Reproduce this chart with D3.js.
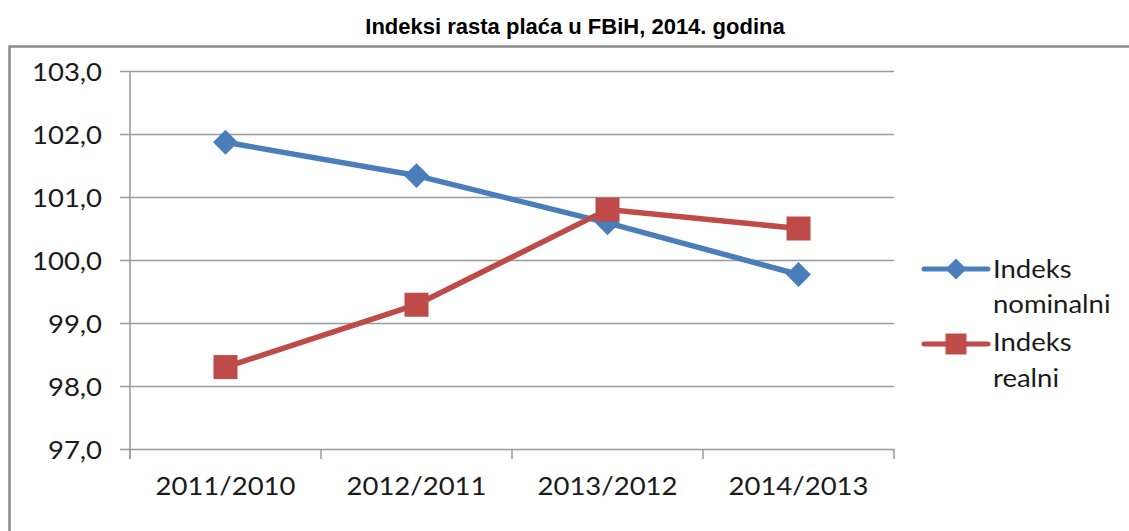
<!DOCTYPE html>
<html>
<head>
<meta charset="utf-8">
<script src="https://cdn.jsdelivr.net/npm/d3@7"></script>
<style>
  html, body { margin: 0; padding: 0; background: #ffffff; }
  svg { display: block; }
</style>
</head>
<body>
<svg id="chart" width="1129" height="531"></svg>
<script>
// Wage growth indices, Federation of BiH
const titleText = "Indeksi rasta plaća u FBiH, 2014. godina";
const categories = ["2011/2010", "2012/2011", "2013/2012", "2014/2013"];
const nominalValues = [101.87, 101.34, 100.59, 99.77];
const realValues = [98.30, 99.29, 100.80, 100.50];
const seriesNames = ["Indeks nominalni", "Indeks realni"];
const yTickValues = [97, 98, 99, 100, 101, 102, 103];

const svg = d3.select("#chart");
const W = 1129, H = 531;
const plot = { left: 130, right: 894, top: 71, bottom: 449 };

const gridColor = "#9a9a9a";
const labelFont = "Lato, 'Open Sans', sans-serif";
const labelSize = 25;
const stretch = 1.1;   // slightly wide label face
const colors = ["#4a7ebb", "#be4b48"];

// Outer frame
svg.append("rect")
  .attr("x", 9.5).attr("y", 46.5)
  .attr("width", W + 20).attr("height", H + 20)
  .attr("fill", "none")
  .attr("stroke", "#8a8a8a")
  .attr("stroke-width", 2.5);

// Title
svg.append("text")
  .attr("x", 575).attr("y", 34)
  .attr("text-anchor", "middle")
  .attr("font-family", "'Liberation Sans', Arial, sans-serif")
  .attr("font-weight", "bold")
  .attr("font-size", 22)
  .attr("fill", "#000")
  .text(titleText);

const x = d3.scaleBand().domain(categories).range([plot.left, plot.right]);
const y = d3.scaleLinear().domain([97, 103]).range([plot.bottom, plot.top]);
const cx = d => x(d) + x.bandwidth() / 2;

// Horizontal gridlines with short outer ticks
const yAxis = d3.axisLeft(y)
  .tickValues(yTickValues)
  .tickSizeInner(-(plot.right - plot.left))
  .tickSizeOuter(0)
  .tickFormat(d => d3.format(".1f")(d).replace(".", ","));
const gy = svg.append("g")
  .attr("transform", `translate(${plot.left},0)`)
  .call(yAxis);
gy.select(".domain").remove();
gy.selectAll(".tick line")
  .attr("x1", -10)
  .attr("stroke", gridColor)
  .attr("stroke-width", 1.5);
gy.selectAll(".tick text")
  .attr("transform", `scale(${stretch},1)`)
  .attr("x", -28 / stretch)
  .attr("dy", "0.36em")
  .attr("font-family", labelFont)
  .attr("font-size", labelSize)
  .attr("fill", "#1a1a1a");

// Vertical axis line
svg.append("line")
  .attr("x1", plot.left).attr("x2", plot.left)
  .attr("y1", plot.top).attr("y2", plot.bottom + 10)
  .attr("stroke", gridColor).attr("stroke-width", 1.5);

// Category axis with boundary ticks
const xAxis = d3.axisBottom(x).tickSize(0).tickSizeOuter(0);
const gx = svg.append("g")
  .attr("transform", `translate(0,${plot.bottom})`)
  .call(xAxis);
gx.select(".domain").remove();
gx.selectAll(".tick text")
  .attr("transform", `scale(${stretch},1)`)
  .attr("y", 46)
  .attr("dy", 0)
  .attr("font-family", labelFont)
  .attr("font-size", labelSize)
  .attr("fill", "#1a1a1a");
const bounds = categories.map(c => x(c)).concat([plot.right]);
svg.append("g").selectAll("line")
  .data(bounds)
  .join("line")
  .attr("x1", d => d).attr("x2", d => d)
  .attr("y1", plot.bottom).attr("y2", plot.bottom + 10)
  .attr("stroke", gridColor).attr("stroke-width", 1.5);

// Series: diamonds are squares turned 45 degrees
const series = [
  { name: seriesNames[0], values: nominalValues, color: colors[0], rot: 45, size: 310, legendSize: 220 },
  { name: seriesNames[1], values: realValues, color: colors[1], rot: 0, size: 576, legendSize: 440 }
];

const line = d3.line().x((d, i) => cx(categories[i])).y(d => y(d));

series.forEach(s => {
  svg.append("path")
    .datum(s.values)
    .attr("d", line)
    .attr("fill", "none")
    .attr("stroke", s.color)
    .attr("stroke-width", 5.5)
    .attr("stroke-linejoin", "round");
  svg.append("g").selectAll("path")
    .data(s.values)
    .join("path")
    .attr("transform", (d, i) => `translate(${cx(categories[i])},${y(d)}) rotate(${s.rot})`)
    .attr("d", d3.symbol().type(d3.symbolSquare).size(s.size))
    .attr("fill", s.color);
});

// Legend
const legend = svg.append("g");
const legendRows = [269, 344];
const legendBaselines = [[278, 313], [351, 387]];
series.forEach((s, i) => {
  const ly = legendRows[i];
  legend.append("line")
    .attr("x1", 924).attr("x2", 988)
    .attr("y1", ly).attr("y2", ly)
    .attr("stroke", s.color).attr("stroke-width", 5)
    .attr("stroke-linecap", "round");
  legend.append("path")
    .attr("transform", `translate(956,${ly}) rotate(${s.rot})`)
    .attr("d", d3.symbol().type(d3.symbolSquare).size(s.legendSize))
    .attr("fill", s.color);
  const words = s.name.split(" ");
  words.forEach((w, k) => {
    legend.append("text")
      .attr("transform", `translate(993,${legendBaselines[i][k]}) scale(${stretch},1)`)
      .attr("font-family", labelFont)
      .attr("font-size", labelSize)
      .attr("fill", "#1a1a1a")
      .text(w);
  });
});
</script>
</body>
</html>
